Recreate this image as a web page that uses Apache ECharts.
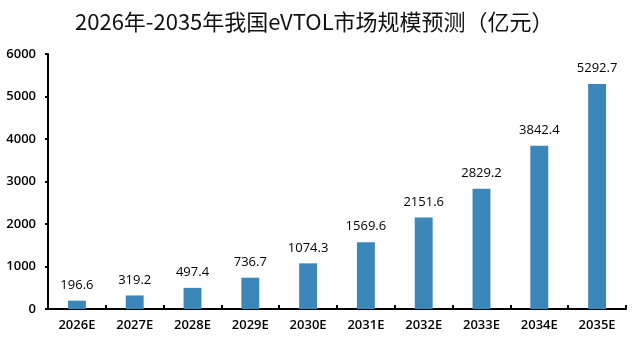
<!DOCTYPE html>
<html><head><meta charset="utf-8">
<script src="https://cdn.jsdelivr.net/npm/echarts@6/dist/echarts.min.js"></script>
<style>html,body{margin:0;padding:0;background:#fff}#c{width:640px;height:343px}</style>
</head><body><div id="c"></div>
<script>
const categories = ['2026E','2027E','2028E','2029E','2030E','2031E','2032E','2033E','2034E','2035E'];
const values = [196.6, 319.2, 497.4, 736.7, 1074.3, 1569.6, 2151.6, 2829.2, 3842.4, 5292.7];
const yTicks = [0, 1000, 2000, 3000, 4000, 5000, 6000];
const chart = echarts.init(document.getElementById('c'));
chart.setOption({
  animation: false,
  title: {
    text: '2026年-2035年我国eVTOL市场规模预测（亿元）',
    left: 70, top: 6,
    textStyle: {fontFamily: 'Noto Sans CJK SC', fontSize: 22, fontWeight: 'normal', color: '#111'}
  },
  grid: {left: 48, right: 14, top: 54, bottom: 34, containLabel: false},
  xAxis: {
    type: 'category', data: categories,
    axisLine: {lineStyle: {color: '#000', width: 2}},
    axisTick: {show: true, inside: true, length: 4, lineStyle: {color: '#000', width: 2}},
    axisLabel: {color: '#000', fontFamily: 'Open Sans', fontSize: 13, fontWeight: 600, margin: 10}
  },
  yAxis: {
    type: 'value', min: yTicks[0], max: yTicks[yTicks.length-1], interval: 1000,
    axisLine: {show: true, lineStyle: {color: '#000', width: 2}},
    axisTick: {show: true, length: 3, lineStyle: {color: '#000', width: 2}},
    splitLine: {show: false},
    axisLabel: {color: '#000', fontFamily: 'Open Sans', fontSize: 13, fontWeight: 600, margin: 12,
      formatter: v => String(v)}
  },
  series: [{
    type: 'bar', data: values, barWidth: '31%',
    itemStyle: {color: '#3b87ba'},
    label: {show: true, position: 'top', distance: 9, color: '#000', fontFamily: 'Open Sans', fontSize: 13, fontWeight: 500}
  }]
});
</script></body></html>
